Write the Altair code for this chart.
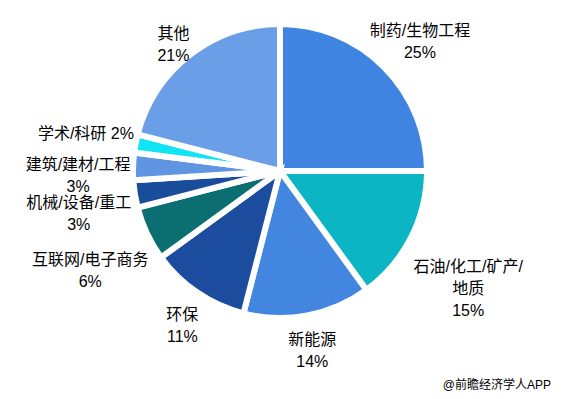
import math
import altair as alt
import pandas as pd

# ---- data ----
categories = ["制药/生物工程", "石油/化工/矿产/地质", "新能源", "环保", "互联网/电子商务",
              "机械/设备/重工", "建筑/建材/工程", "学术/科研", "其他"]
label_names = ["制药/生物工程", "石油/化工/矿产/\n地质", "新能源", "环保", "互联网/电子商务",
               "机械/设备/重工", "建筑/建材/工程", "学术/科研", "其他"]
label_sep = ["\n", "\n", "\n", "\n", "\n", "\n", "\n", " ", "\n"]
values = [25, 15, 14, 11, 6, 3, 3, 2, 21]
colors = ["#3E84E0", "#0BB5C3", "#4386E0", "#1B4C9E", "#0B6F72",
          "#1A4C9C", "#5F95E3", "#10E4F5", "#6A9FE8"]
watermark = "@前瞻经济学人APP"

# ---- layout constants ----
W, H = 547, 383
CX, CY = 272, 163
R = 144
GAP = 5
FS = 16
LH = 22
FONT = "Liberation Sans, Noto Sans CJK SC, sans-serif"

ascii_w = {"%": 14.2, "/": 4.4, " ": 4.4}


def text_width(line):
    total = 0.0
    for ch in line:
        if ord(ch) > 0x2E80:
            total += FS
        else:
            total += ascii_w.get(ch, 8.9)
    return total


labels = [n + s + f"{v}%" for n, s, v in zip(label_names, label_sep, values)]
total = sum(values)
starts, ends, mids, label_r = [], [], [], []
cum = 0
for v, lab in zip(values, labels):
    starts.append(cum)
    ends.append(cum + v)
    mids.append(cum + v / 2)
    ang = (cum + v / 2) / total * 2 * math.pi
    cum += v
    lines = lab.split("\n")
    hw = max(text_width(l) for l in lines) / 2
    hh = len(lines) * LH / 2 - 3
    label_r.append(R + GAP + abs(math.sin(ang)) * hw + abs(math.cos(ang)) * hh)

df = pd.DataFrame({
    "name": categories,
    "value": values,
    "start": starts,
    "end": ends,
    "mid": mids,
    "label": labels,
    "label_r": label_r,
})

tscale = alt.Scale(domain=[0, total], range=[0, 2 * math.pi])

base = alt.Chart(df)

pie = base.mark_arc(outerRadius=R + 3, stroke="white", strokeWidth=6).encode(
    theta=alt.Theta("start:Q", scale=tscale, stack=False),
    theta2="end:Q",
    color=alt.Color("name:N", scale=alt.Scale(domain=categories, range=colors), legend=None),
    x=alt.value(CX),
    y=alt.value(CY),
)

text = base.mark_text(lineBreak="\n", font=FONT, fontSize=FS, lineHeight=LH,
                      align="center", baseline="middle", color="#000000").encode(
    theta=alt.Theta("mid:Q", scale=tscale, stack=False),
    radius=alt.Radius("label_r:Q", scale=None, stack=False),
    text="label:N",
    x=alt.value(CX),
    y=alt.value(CY),
)

wm = alt.Chart(pd.DataFrame({"t": [watermark]})).mark_text(
    font=FONT, fontSize=12, align="right", baseline="middle", color="#000000"
).encode(text="t:N", x=alt.value(W - 4), y=alt.value(H - 6))

chart = alt.layer(pie, text, wm).properties(
    width=W, height=H, padding=0, autosize=alt.AutoSizeParams(type="none")
).configure_view(stroke=None)

chart.save("out.html", embed_options={"renderer": "svg", "actions": False})
